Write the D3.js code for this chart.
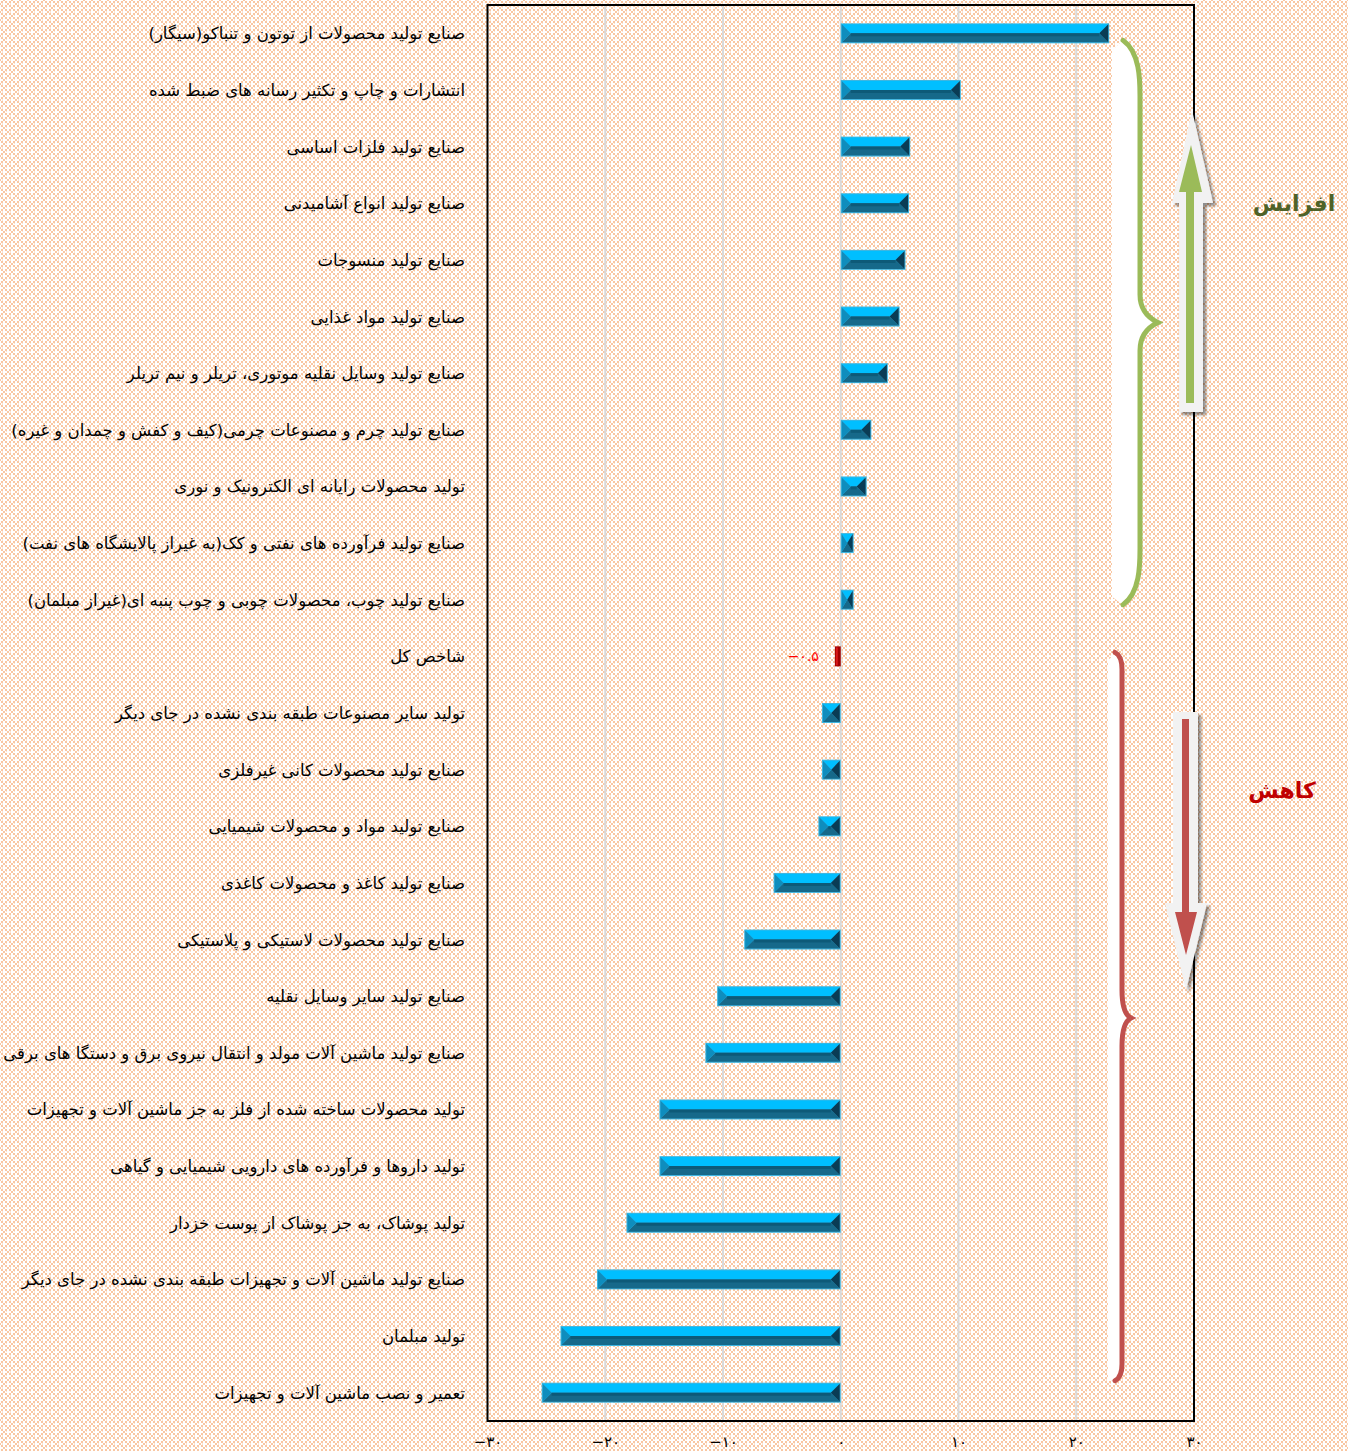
<!DOCTYPE html>
<html><head><meta charset="utf-8">
<script src="https://cdn.jsdelivr.net/npm/d3@7"></script>
<style>body{margin:0;background:#fff}svg{display:block}</style>
</head><body>
<svg id="chart" width="1348" height="1451"></svg>
<script>
const categories = [
"صنایع تولید محصولات از توتون و تنباکو(سیگار)",
"انتشارات و چاپ و تکثیر رسانه های ضبط شده",
"صنایع تولید فلزات اساسی",
"صنایع تولید انواع آشامیدنی",
"صنایع تولید منسوجات",
"صنایع تولید مواد غذایی",
"صنایع تولید وسایل نقلیه موتوری، تریلر و نیم تریلر",
"صنایع تولید چرم و مصنوعات چرمی(کیف و کفش و چمدان و غیره)",
"تولید محصولات رایانه ای الکترونیک و نوری",
"صنایع تولید فرآورده های نفتی و کک(به غیراز پالایشگاه های نفت)",
"صنایع تولید چوب، محصولات چوبی و چوب پنبه ای(غیراز مبلمان)",
"شاخص کل",
"تولید سایر مصنوعات طبقه بندی نشده در جای دیگر",
"صنایع تولید محصولات کانی غیرفلزی",
"صنایع تولید مواد و محصولات شیمیایی",
"صنایع تولید کاغذ و محصولات کاغذی",
"صنایع تولید محصولات لاستیکی و پلاستیکی",
"صنایع تولید سایر وسایل نقلیه",
"صنایع تولید ماشین آلات مولد و انتقال نیروی برق و دستگا های برقی",
"تولید محصولات ساخته شده از فلز به جز ماشین آلات و تجهیزات",
"تولید داروها و فرآورده های دارویی شیمیایی و گیاهی",
"تولید پوشاک، به جز پوشاک از پوست خزدار",
"صنایع تولید ماشین آلات و تجهیزات طبقه بندی نشده در جای دیگر",
"تولید مبلمان",
"تعمیر و نصب ماشین آلات و تجهیزات"
];
const values = [22.8, 10.2, 5.9, 5.8, 5.5, 5.0, 4.0, 2.6, 2.2, 1.1, 1.1, -0.5,
  -1.6, -1.6, -1.9, -5.7, -8.2, -10.5, -11.5, -15.4, -15.4, -18.2, -20.7, -23.8, -25.4];
const totalIndex = "شاخص کل";
const totalLabel = "−۰.۵";
const tickValues = [-30, -20, -10, 0, 10, 20, 30];
const tickLabels = ["−۳۰", "−۲۰", "−۱۰", "۰", "۱۰", "۲۰", "۳۰"];
const upLabel = "افزایش";
const downLabel = "کاهش";

const svg = d3.select("#chart");
const W = 1348, H = 1451;
const plot = {left: 487.5, right: 1194, top: 5, bottom: 1421};

// background pattern
const defs = svg.append("defs");
const pat = defs.append("pattern").attr("id","bg").attr("width",8).attr("height",8).attr("patternUnits","userSpaceOnUse");
pat.append("rect").attr("width",8).attr("height",8).attr("fill","#f9c7a2");
const plus = (cx, cy) => `M${cx-1},${cy-3}h2v2h2v2h-2v2h-2v-2h-2v-2h2z`;
pat.append("path").attr("d", plus(0,0)+plus(8,0)+plus(0,8)+plus(8,8)+plus(4,4)).attr("fill","#ffffff");
pat.append("rect").attr("x",2).attr("y",3).attr("width",1).attr("height",2).attr("fill","#fce2cf");
pat.append("rect").attr("x",6).attr("y",7).attr("width",1).attr("height",1).attr("fill","#fce2cf");
svg.append("rect").attr("width",W).attr("height",H).attr("fill","url(#bg)");

const shadow = defs.append("filter").attr("id","sh").attr("x","-50%").attr("y","-20%").attr("width","200%").attr("height","140%");
shadow.append("feGaussianBlur").attr("in","SourceAlpha").attr("stdDeviation",1.5);
shadow.append("feOffset").attr("dx",3).attr("dy",3).attr("result","ob");
shadow.append("feComponentTransfer").append("feFuncA").attr("type","linear").attr("slope",0.45);
const fm = shadow.append("feMerge");
fm.append("feMergeNode"); fm.append("feMergeNode").attr("in","SourceGraphic");

const x = d3.scaleLinear().domain([-30, 30]).range([plot.left, plot.right]);
const y = d3.scalePoint().domain(categories).range([plot.top, plot.bottom]).padding(0.5);
const barH = 20;

// gridlines
svg.append("g").selectAll("line").data(tickValues.slice(1,-1)).join("line")
  .attr("x1", d => x(d)).attr("x2", d => x(d))
  .attr("y1", plot.top).attr("y2", plot.bottom)
  .attr("stroke", "#d9d9d9").attr("stroke-width", 2);

// bars
const data = categories.map((c, i) => ({c, v: values[i]}));
const bars = svg.append("g");
data.forEach(d => {
  const x0 = Math.min(x(0), x(d.v)), x1 = Math.max(x(0), x(d.v));
  const yc = y(d.c), t = yc - barH/2, b = yc + barH/2;
  const g = bars.append("g");
  if (d.c === totalIndex) {
    g.append("rect").attr("x", x0).attr("y", t).attr("width", x1 - x0).attr("height", barH).attr("fill", "#a00000");
    g.append("rect").attr("x", x0+1).attr("y", t+1).attr("width", Math.max(0,(x1 - x0)/2-1)).attr("height", barH-2).attr("fill", "#d81818");
    return;
  }
  const bw = Math.min(10, (x1 - x0)/2), bh = barH/2 - 1;
  const poly = (pts, fill) => g.append("polygon").attr("points", pts.map(p => p.join(",")).join(" ")).attr("fill", fill);
  g.append("rect").attr("x", x0).attr("y", t).attr("width", x1-x0).attr("height", barH).attr("fill", "#3fb6e0");
  const xm0 = x0 + bw, xm1 = x1 - bw;
  const ym = yc;
  poly([[x0+1,t+1],[x1-1,t+1],[xm1,ym],[xm0,ym]], "#00bfff");
  poly([[x0+1,b-1],[x1-1,b-1],[xm1,ym],[xm0,ym]], "#16698a");
  poly([[x0+1,t+1],[xm0,ym],[x0+1,b-1]], "#0f8dbd");
  poly([[x1-1,t+1],[xm1,ym],[x1-1,b-1]], "#0a3c55");
  g.append("line").attr("x1", xm0).attr("x2", xm1).attr("y1", ym+1.5).attr("y2", ym+1.5).attr("stroke","#0d5a78").attr("stroke-width",3);
});

// total label
svg.append("text").attr("x", x(-0.5) - 16).attr("y", y(totalIndex) + 5)
  .attr("text-anchor","end").attr("direction","ltr").attr("fill","#ff0000")
  .attr("font-family","DejaVu Sans").attr("font-size",14).text(totalLabel);

// frame
svg.append("rect").attr("x", plot.left).attr("y", plot.top)
  .attr("width", plot.right - plot.left).attr("height", plot.bottom - plot.top)
  .attr("fill","none").attr("stroke","#000").attr("stroke-width",2);

// x axis
const axis = d3.axisBottom(x).tickValues(tickValues).tickSize(0).tickPadding(15)
  .tickFormat((d, i) => tickLabels[i]);
const ax = svg.append("g").attr("transform", `translate(0,${plot.bottom})`).call(axis);
ax.select(".domain").remove();
ax.selectAll("text").attr("font-family","DejaVu Sans").attr("font-size",15).attr("fill","#000").attr("direction","ltr");

// category labels
svg.append("g").selectAll("text").data(categories).join("text")
  .attr("x", 465).attr("y", d => y(d) + 6)
  .attr("direction","rtl").attr("text-anchor","start")
  .attr("font-family","DejaVu Sans").attr("font-size",16.5).attr("fill","#000")
  .text(d => d);

// braces
function brace(xs, xv, xt, y0, yt, y1, r) {
  return `M${xs},${y0} C${xv},${y0+r*0.3} ${xv},${y0+r} ${xv},${y0+r*1.4}` +
    ` L${xv},${yt-28} C${xv},${yt-8} ${xt-4},${yt-2} ${xt},${yt}` +
    ` C${xt-4},${yt+2} ${xv},${yt+8} ${xv},${yt+28}` +
    ` L${xv},${y1-r*1.4} C${xv},${y1-r} ${xv},${y1-r*0.3} ${xs},${y1}`;
}
const gTop = y(categories[0]) + 7, gBot = y(categories[10]) + 5;
const rTop = y(categories[11]) - 4, rBot = y(categories[24]) - 12;
// white strips
svg.append("path").attr("d", brace(1123, 1140, 1158, gTop, (gTop+gBot)/2, gBot, 40) + ` L1112,${gBot-8} L1112,${gTop+10} Z`)
  .attr("fill","#fff");
svg.append("path").attr("d", brace(1117, 1122, 1131, rTop, 1018, rBot, 40) + ` L1108,${rBot} L1108,${rTop+8} Z`)
  .attr("fill","#fff");
svg.append("path").attr("d", brace(1123, 1140, 1158, gTop, (gTop+gBot)/2, gBot, 40))
  .attr("fill","none").attr("stroke","#9bbb59").attr("stroke-width",5).attr("stroke-linecap","round");
svg.append("path").attr("d", brace(1115, 1122, 1131, rTop, 1018, rBot, 12))
  .attr("fill","none").attr("stroke","#c0504d").attr("stroke-width",5).attr("stroke-linecap","round");

// arrows
const pts = a => a.map(p => p.join(",")).join(" ");
svg.append("polygon").attr("filter","url(#sh)")
  .attr("points", pts([[1192,110],[1213,203],[1203,203],[1203,412],[1179,412],[1179,203],[1172,203]]))
  .attr("fill","#f2f2f2");
svg.append("polygon")
  .attr("points", pts([[1191,145],[1202,192],[1194,192],[1194,403],[1186,403],[1186,192],[1179,192]]))
  .attr("fill","#9bbb59");
svg.append("polygon").attr("filter","url(#sh)")
  .attr("points", pts([[1173,712],[1198,712],[1198,903],[1207,903],[1186,990],[1165,903],[1173,903]]))
  .attr("fill","#f2f2f2");
svg.append("polygon")
  .attr("points", pts([[1182,719],[1189,719],[1189,912],[1197,912],[1186,955],[1175,912],[1182,912]]))
  .attr("fill","#c0504d");

svg.append("text").attr("x", 1294).attr("y", 211).attr("text-anchor","middle")
  .attr("font-family","DejaVu Sans").attr("font-weight","bold").attr("font-size",22)
  .attr("fill","#4f6228").text(upLabel);
svg.append("text").attr("x", 1282).attr("y", 798).attr("text-anchor","middle")
  .attr("font-family","DejaVu Sans").attr("font-weight","bold").attr("font-size",22)
  .attr("fill","#c00000").text(downLabel);
</script>
</body></html>
